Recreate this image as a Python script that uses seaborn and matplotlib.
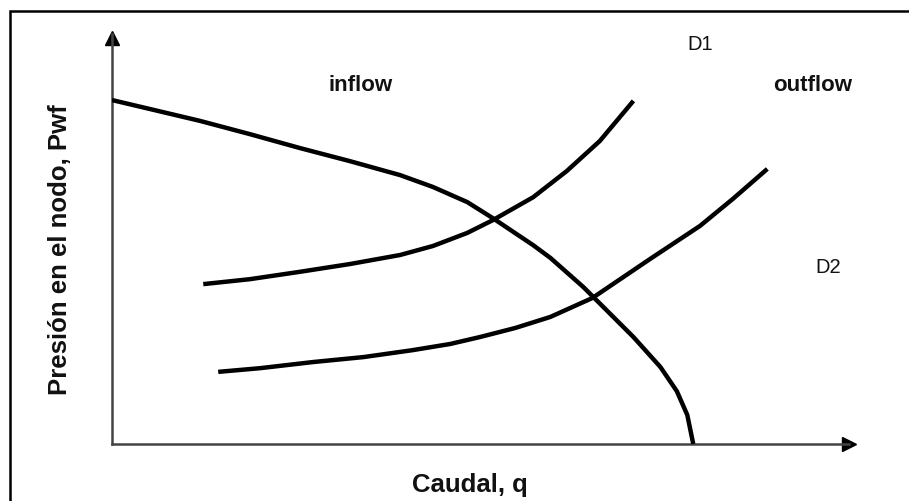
import numpy as np
import pandas as pd
import matplotlib.pyplot as plt
import matplotlib.patches as patches
import seaborn as sns

# curves (caudal q, presion Pwf) in a 0-100 scale
inflow_q = [0.0, 5.1, 11.8, 18.4, 25.1, 31.8, 38.5, 42.9, 47.5, 50.9, 56.3, 58.6,
            63.0, 69.7, 73.3, 75.5, 76.9, 77.7]
inflow_p = [83.9, 81.7, 78.8, 75.6, 72.2, 69.0, 65.6, 62.7, 59.0, 55.1, 48.5, 45.4,
            38.3, 26.1, 18.8, 12.9, 7.1, 0.0]

d1_q = [12.2, 18.4, 25.1, 31.8, 38.5, 42.9, 47.5, 50.9, 56.3, 60.8, 65.2, 69.7]
d1_p = [39.0, 40.2, 42.0, 43.9, 46.1, 48.3, 51.5, 54.6, 60.2, 66.6, 73.9, 83.7]

d2_q = [14.2, 19.8, 26.9, 33.6, 40.2, 45.2, 49.2, 53.9, 58.6, 64.2, 71.9, 78.6, 83.0, 87.6]
d2_p = [17.6, 18.5, 20.0, 21.2, 22.9, 24.4, 26.1, 28.3, 31.0, 35.6, 45.1, 53.2, 59.8, 67.1]

labels = {"inflow": (33.2, 87.8), "outflow": (93.6, 87.8)}
curve_names = {"D1": (78.6, 97.6), "D2": (95.7, 43.2)}

sns.set_theme(style="white")
plt.rcParams['font.family'] = ['Liberation Sans', 'DejaVu Sans']

fig = plt.figure(figsize=(9.09, 5.02), dpi=100)
ax = fig.add_axes([0.1232, 0.1135, 0.823, 0.8167])

for q, p in [(inflow_q, inflow_p), (d1_q, d1_p), (d2_q, d2_p)]:
    df = pd.DataFrame({"q": q, "p": p})
    sns.lineplot(data=df, x="q", y="p", sort=False, color="black", linewidth=3.2,
                 ax=ax, solid_capstyle="butt", solid_joinstyle="round", zorder=3)

ax.set_xlim(0, 100)
ax.set_ylim(0, 100)
ax.set_xticks([])
ax.set_yticks([])
ax.set_xlabel("")
ax.set_ylabel("")
for side in ["top", "right"]:
    ax.spines[side].set_visible(False)
ax.spines["bottom"].set_bounds(0, 98.5)
for side in ["left", "bottom"]:
    ax.spines[side].set_color("#444444")
    ax.spines[side].set_linewidth(1.8)

# arrow heads on the axes
ax.plot(0.985, 0, ">", transform=ax.transAxes, color="black", markersize=10, clip_on=False)
ax.plot(0, 0.99, "^", transform=ax.transAxes, color="black", markersize=10, clip_on=False)

for txt, (x, y) in labels.items():
    ax.text(x, y, txt, fontsize=16, fontweight="bold", ha="center", va="center", color="#111111")
for txt, (x, y) in curve_names.items():
    ax.text(x, y, txt, fontsize=14.5, ha="center", va="center", color="#111111")

ax.text(0.479, -0.098, "Caudal, q", transform=ax.transAxes, fontsize=18.5,
        fontweight="bold", ha="center", va="center", color="#111111")
ax.text(-0.0695, 0.476, "Presión en el nodo, Pwf", transform=ax.transAxes, fontsize=18.5,
        fontweight="bold", ha="center", va="center", rotation=90, color="#111111")

# frame around the picture (cut at right and bottom)
frame = patches.Rectangle((0.011, -0.1), 1.2, 1.076, transform=fig.transFigure,
                          fill=False, edgecolor="black", linewidth=1.8)
fig.patches.append(frame)

fig.savefig("out.png", dpi=100)
